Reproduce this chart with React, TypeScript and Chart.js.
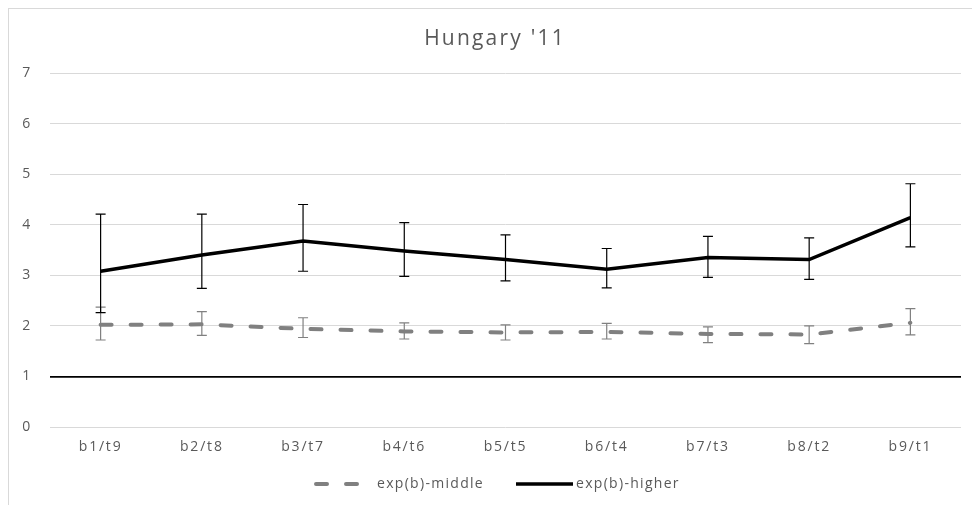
import React, { useEffect, useRef } from "react";
import { Chart, registerables } from "chart.js";

Chart.register(...registerables);

const categories = ["b1/t9", "b2/t8", "b3/t7", "b4/t6", "b5/t5", "b6/t4", "b7/t3", "b8/t2", "b9/t1"];
const higher = [3.08, 3.4, 3.68, 3.48, 3.31, 3.12, 3.35, 3.31, 4.14];
const higherHigh = [4.21, 4.21, 4.4, 4.04, 3.8, 3.53, 3.77, 3.74, 4.81];
const higherLow = [2.26, 2.74, 3.08, 2.98, 2.89, 2.75, 2.96, 2.92, 3.56];
const middle = [2.02, 2.03, 1.94, 1.89, 1.87, 1.88, 1.84, 1.83, 2.06];
const middleHigh = [2.37, 2.28, 2.16, 2.06, 2.02, 2.05, 1.98, 2.0, 2.34];
const middleLow = [1.72, 1.81, 1.77, 1.74, 1.72, 1.74, 1.67, 1.65, 1.82];
const seriesNames = ["exp(b)-middle", "exp(b)-higher"];
const titleText = "Hungary '11";

const FONT = "'Open Sans', sans-serif";
const TEXT_COLOR = "#595959";
const MIDDLE_COLOR = "#808080";
const HIGHER_COLOR = "#000000";

const spacingPlugin = {
  id: "letterSpacing",
  beforeUpdate(chart: any) {
    chart.ctx.letterSpacing = "1.8px";
  },
  beforeDraw(chart: any) {
    chart.ctx.letterSpacing = "1.8px";
  },
};

const errorBarPlugin = {
  id: "errorBars",
  afterDatasetsDraw(chart: any) {
    const ctx = chart.ctx;
    const x = chart.scales.x;
    const y = chart.scales.y;
    const sets = [
      { lo: middleLow, hi: middleHigh, color: MIDDLE_COLOR },
      { lo: higherLow, hi: higherHigh, color: HIGHER_COLOR },
    ];
    ctx.save();
    ctx.lineWidth = 1.2;
    sets.forEach((s) => {
      ctx.strokeStyle = s.color;
      categories.forEach((_, i) => {
        const px = x.getPixelForValue(i);
        const top = y.getPixelForValue(s.hi[i]);
        const bot = y.getPixelForValue(s.lo[i]);
        ctx.beginPath();
        ctx.moveTo(px, top);
        ctx.lineTo(px, bot);
        ctx.moveTo(px - 5, top);
        ctx.lineTo(px + 5, top);
        ctx.moveTo(px - 5, bot);
        ctx.lineTo(px + 5, bot);
        ctx.stroke();
      });
    });
    ctx.restore();
  },
};

const titleLegendPlugin = {
  id: "titleLegend",
  afterDraw(chart: any) {
    const ctx = chart.ctx;
    ctx.save();
    // title
    ctx.fillStyle = TEXT_COLOR;
    ctx.letterSpacing = "2.2px";
    ctx.font = "21px " + FONT;
    ctx.textAlign = "center";
    ctx.textBaseline = "alphabetic";
    ctx.fillText(titleText, 495, 45);

    // legend
    const cx = 486;
    const ly = 484;
    ctx.lineCap = "round";
    ctx.strokeStyle = MIDDLE_COLOR;
    ctx.lineWidth = 4;
    ctx.setLineDash([11, 19]);
    ctx.beginPath();
    ctx.moveTo(cx - 170, ly);
    ctx.lineTo(cx - 128, ly);
    ctx.stroke();
    ctx.setLineDash([]);
    ctx.lineCap = "butt";
    ctx.strokeStyle = HIGHER_COLOR;
    ctx.lineWidth = 3.5;
    ctx.beginPath();
    ctx.moveTo(cx + 30, ly);
    ctx.lineTo(cx + 87, ly);
    ctx.stroke();
    ctx.letterSpacing = "1.3px";
    ctx.font = "14px " + FONT;
    ctx.textBaseline = "middle";
    ctx.textAlign = "left";
    ctx.fillText(seriesNames[0], cx - 109, ly);
    ctx.fillText(seriesNames[1], cx + 90, ly);
    ctx.restore();
  },
};

export default function App() {
  const canvasRef = useRef<HTMLCanvasElement | null>(null);

  useEffect(() => {
    if (!canvasRef.current) return;
    const chart = new Chart(canvasRef.current, {
      type: "line",
      data: {
        labels: categories,
        datasets: [
          {
            label: seriesNames[0],
            data: middle,
            borderColor: MIDDLE_COLOR,
            backgroundColor: MIDDLE_COLOR,
            borderWidth: 4,
            borderDash: [11, 19],
            borderCapStyle: "round",
            pointRadius: 0,
            tension: 0,
          },
          {
            label: seriesNames[1],
            data: higher,
            borderColor: HIGHER_COLOR,
            backgroundColor: HIGHER_COLOR,
            borderWidth: 3.5,
            pointRadius: 0,
            tension: 0,
          },
        ],
      },
      options: {
        animation: false,
        responsive: false,
        maintainAspectRatio: false,
        layout: { padding: { left: 18, right: 11, top: 73, bottom: 48 } },
        plugins: {
          legend: { display: false },
          tooltip: { enabled: false },
          title: { display: false },
        },
        scales: {
          x: {
            offset: true,
            grid: { display: false, drawTicks: false },
            border: { display: false },
            ticks: { color: TEXT_COLOR, font: { family: FONT, size: 14 }, padding: 12, maxRotation: 0 },
            afterFit: (s: any) => {
              s.height = 30;
              s.paddingLeft = 0;
              s.paddingRight = 0;
            },
          },
          y: {
            min: 0,
            max: 7,
            grid: {
              drawTicks: false,
              color: (c: any) => (c.tick && c.tick.value === 1 ? "#000000" : "#d9d9d9"),
              lineWidth: (c: any) => (c.tick && c.tick.value === 1 ? 1.8 : 1),
            },
            border: { display: false },
            ticks: { stepSize: 1, color: TEXT_COLOR, font: { family: FONT, size: 14 }, padding: 18 },
            afterFit: (s: any) => {
              s.width = 32;
            },
          },
        },
      },
      plugins: [spacingPlugin, errorBarPlugin, titleLegendPlugin],
    });
    return () => chart.destroy();
  }, []);

  return (
    <div style={{ position: "absolute", left: 0, top: 0, width: 972, height: 505, overflow: "hidden", background: "#fff" }}>
      <div style={{ position: "absolute", left: 8, top: 8, width: 990, height: 520, border: "1px solid #d9d9d9", boxSizing: "border-box" }} />
      <canvas ref={canvasRef} width={972} height={505} style={{ position: "absolute", left: 0, top: 0, width: 972, height: 505 }} />
    </div>
  );
}
